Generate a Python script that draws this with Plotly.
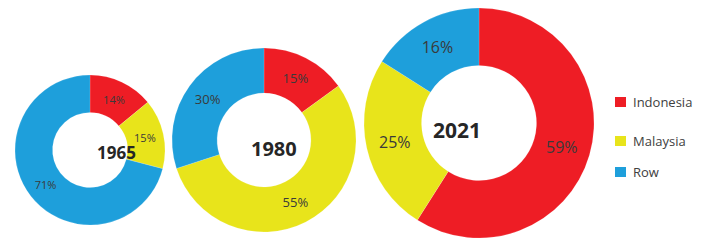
import plotly.graph_objects as go

labels = ["Indonesia", "Malaysia", "Row"]
colors = ["#EE1D25", "#E8E41B", "#1E9FDB"]
years = ["1965", "1980", "2021"]
share_1965 = [14, 15, 71]
share_1980 = [15, 55, 30]
share_2021 = [59, 25, 16]

W, H = 710, 240
# pie boxes in pixels: (x0, x1, ytop, ybottom)
boxes = [(15, 165, 75, 225), (172, 356, 48, 232), (364, 594, 8, 238)]
holes = [0.5, 0.51, 0.5]
text_sizes = [11, 13, 16]
year_sizes = [17, 20, 21]
year_pos = [(95, 152), (274, 148), (483, 130)]
series = [share_1965, share_1980, share_2021]

fig = go.Figure()
for i, vals in enumerate(series):
    x0, x1, yt, yb = boxes[i]
    fig.add_trace(go.Pie(
        labels=labels, values=vals, hole=holes[i], sort=False,
        direction="clockwise", rotation=0,
        marker=dict(colors=colors, line=dict(color="rgba(255,255,255,0.3)", width=0.5)),
        texttemplate="%{value}%", textposition="inside", insidetextorientation="horizontal",
        textfont=dict(family="Open Sans", size=text_sizes[i], color="#3a3a3a"),
        domain=dict(x=[x0 / W, x1 / W], y=[1 - yb / H, 1 - yt / H]),
        showlegend=False, hoverinfo="label+percent",
    ))
    px, py = year_pos[i]
    fig.add_annotation(
        x=px / W, y=1 - py / H, xref="paper", yref="paper",
        text="<b>" + years[i] + "</b>", showarrow=False,
        font=dict(family="Open Sans", size=year_sizes[i], color="#262626"),
    )

# legend
leg_y = [102, 141, 172]
for lab, col, ly in zip(labels, colors, leg_y):
    fig.add_shape(type="rect", xref="paper", yref="paper",
                  x0=615 / W, x1=626 / W, y0=1 - (ly + 5) / H, y1=1 - (ly - 5) / H,
                  fillcolor=col, line=dict(width=0))
    fig.add_annotation(x=631 / W, y=1 - ly / H, xref="paper", yref="paper",
                       text=lab, showarrow=False, xanchor="left", yanchor="middle",
                       font=dict(family="Open Sans", size=13, color="#404040"))

fig.update_layout(width=W, height=H, margin=dict(l=0, r=0, t=0, b=0),
                  paper_bgcolor="white", plot_bgcolor="white")
fig.write_html("out.html", config={"displayModeBar": False},
               post_script="document.body.style.margin='0';document.body.style.padding='0';")
